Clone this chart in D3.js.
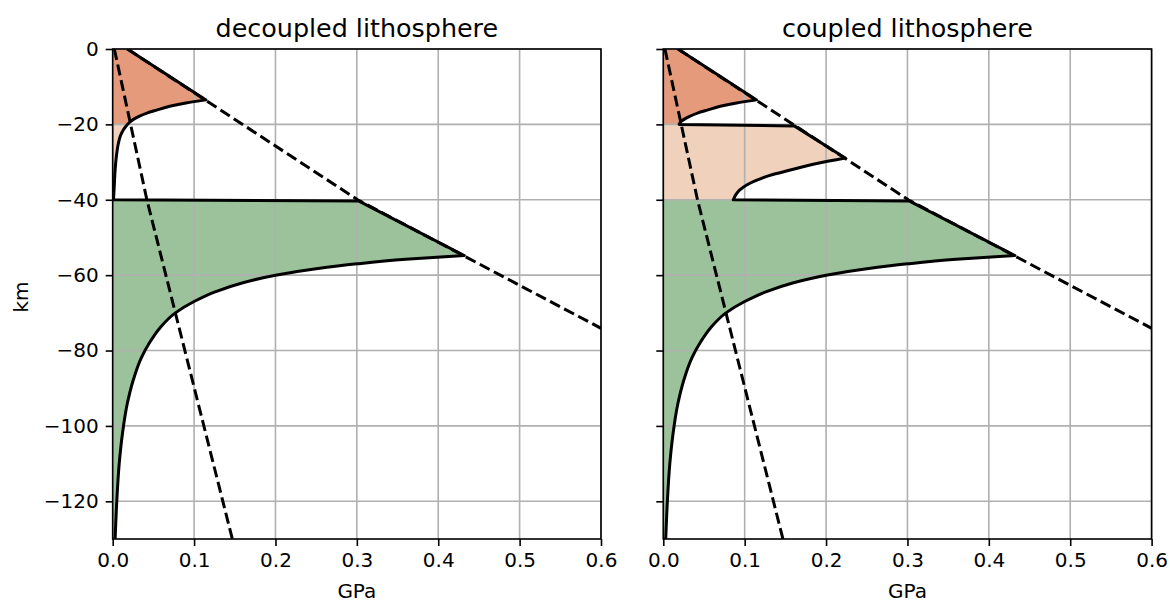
<!DOCTYPE html>
<html><head><meta charset="utf-8">
<script src="https://cdn.jsdelivr.net/npm/d3@7"></script>
<style>body{margin:0;background:#fff} svg{display:block} text{font-family:"DejaVu Sans",sans-serif;fill:#000}</style>
</head><body><svg id="c" width="1170" height="603"></svg>
<script>
// ---- data ----
const xTicks = [0, 0.1, 0.2, 0.3, 0.4, 0.5, 0.6];
const yTicks = [0, -20, -40, -60, -80, -100, -120];
const titles = ["decoupled lithosphere", "coupled lithosphere"];
const layerTops = [0, -20, -40];
const layerBottoms = [-20, -40, -130];
const layerColors = ["#E59B7B", "#F0D2BC", "#9BC29B"];
// dashed reference lines (GPa, km)
const frictionComp = [[0.018, 0], [0.301, -40], [0.6, -74.1]];
const frictionTens = [[0.002, 0], [0.042, -40], [0.147, -130]];
// envelope pieces
const ucBrittle = [[0.018, 0], [0.1146, -13.5]];
const ucCreepDecoupled = [[0.1146, -13.5], [0.09, -14.3], [0.07, -15.2], [0.054, -16.2], [0.042, -17.0], [0.033, -17.8], [0.026, -18.6], [0.021, -19.4], [0.017, -20.3], [0.013, -21.5], [0.0095, -23], [0.007, -25], [0.0045, -28.5], [0.003, -32], [0.002, -36], [0.001, -40]];
const ucCreepCoupled = [[0.1146, -13.5], [0.09, -14.3], [0.07, -15.2], [0.054, -16.2], [0.042, -17.0], [0.033, -17.8], [0.026, -18.6], [0.021, -19.4], [0.0195, -20]];
const lcBrittle = [[0.0195, -20], [0.161, -20.4], [0.2235, -28.9]];
const lcCreep = [[0.2235, -28.9], [0.19, -30.3], [0.156, -32.1], [0.13, -33.6], [0.115, -34.8], [0.103, -36.0], [0.094, -37.4], [0.089, -38.7], [0.086, -40]];
const mohoDecoupled = [[0.001, -40], [0.302, -40.3], [0.432, -54.8]];
const mohoCoupled = [[0.086, -40], [0.302, -40.3], [0.432, -54.8]];
const mantleCreep = [[0.432, -54.8], [0.36, -55.8], [0.3, -57], [0.25, -58.3], [0.2, -60], [0.16, -62], [0.125, -64.5], [0.1, -67], [0.077, -70], [0.058, -74], [0.045, -78], [0.035, -82], [0.025, -88], [0.018, -94], [0.012, -102], [0.008, -110], [0.005, -120], [0.003, -130]];

const panels = [
  {left: 112.7, segs: [[ucBrittle, false], [ucCreepDecoupled, true], [mohoDecoupled, false], [mantleCreep, true]]},
  {left: 663.3, segs: [[ucBrittle, false], [ucCreepCoupled, true], [lcBrittle, false], [lcCreep, true], [mohoCoupled, false], [mantleCreep, true]]}
];

// ---- drawing ----
const PW = 488.3, PT = 49, PB = 539;
const svg = d3.select("#c");
const defs = svg.append("defs");

panels.forEach((p, i) => {
  const x = d3.scaleLinear().domain([0, 0.6]).range([p.left, p.left + PW]);
  const y = d3.scaleLinear().domain([0, -130]).range([PT, PB]);
  const g = svg.append("g");
  const clipId = "clip" + i;
  defs.append("clipPath").attr("id", clipId).append("rect")
    .attr("x", x(0)).attr("y", y(0)).attr("width", PW).attr("height", PB - PT);

  let d = "";
  p.segs.forEach(([pts, curved], k) => {
    const s = d3.line().x(v => x(v[0])).y(v => y(v[1]))
      .curve(curved ? d3.curveMonotoneY : d3.curveLinear)(pts);
    d += (k === 0 ? s : "L" + s.slice(1));
  });
  const firstPt = p.segs[0][0][0];
  const fillD = "M" + x(0) + "," + y(firstPt[1]) + "L" + d.slice(1) + "L" + x(0) + "," + y(-130) + "Z";

  layerTops.forEach((t, li) => {
    const cid = "lay" + i + "_" + li;
    defs.append("clipPath").attr("id", cid).append("rect")
      .attr("x", x(0)).attr("y", y(t)).attr("width", PW).attr("height", y(layerBottoms[li]) - y(t));
    g.append("path").attr("d", fillD).attr("fill", layerColors[li]).attr("clip-path", `url(#${cid})`);
  });

  g.append("g").selectAll("line").data(xTicks).join("line")
    .attr("x1", v => x(v)).attr("x2", v => x(v)).attr("y1", PT).attr("y2", PB)
    .attr("stroke", "#b0b0b0").attr("stroke-width", 1.6);
  g.append("g").selectAll("line").data(yTicks).join("line")
    .attr("y1", v => y(v)).attr("y2", v => y(v)).attr("x1", x(0)).attr("x2", x(0.6))
    .attr("stroke", "#b0b0b0").attr("stroke-width", 1.6);

  const lg = g.append("g").attr("clip-path", `url(#${clipId})`);
  const ln = d3.line().x(v => x(v[0])).y(v => y(v[1]));
  [frictionComp, frictionTens].forEach(pts => {
    lg.append("path").attr("d", ln(pts)).attr("fill", "none").attr("stroke", "#000")
      .attr("stroke-width", 3).attr("stroke-dasharray", "11.1,4.8");
  });
  lg.append("path").attr("d", d).attr("fill", "none").attr("stroke", "#000")
    .attr("stroke-width", 3).attr("stroke-linejoin", "round");

  const xa = g.append("g").attr("transform", `translate(0,${PB})`)
    .call(d3.axisBottom(x).tickValues(xTicks).tickFormat(d3.format(".1f")).tickSize(7).tickPadding(7));
  const ya = g.append("g").attr("transform", `translate(${x(0)},0)`)
    .call(d3.axisLeft(y).tickValues(yTicks).tickFormat(v => i === 0 ? (v < 0 ? "\u2212" + Math.abs(v) : String(v)) : "").tickSize(7).tickPadding(7));
  [xa, ya].forEach(a => {
    a.select(".domain").remove();
    a.selectAll(".tick line").attr("stroke", "#000").attr("stroke-width", 1.6);
    a.selectAll("text").attr("font-size", 20).attr("font-family", "DejaVu Sans");
  });
  g.append("rect").attr("x", x(0)).attr("y", PT).attr("width", PW).attr("height", PB - PT)
    .attr("fill", "none").attr("stroke", "#000").attr("stroke-width", 1.6);

  g.append("text").attr("x", x(0.3)).attr("y", 37).attr("text-anchor", "middle")
    .attr("font-size", 25.4).text(titles[i]);
  g.append("text").attr("x", x(0.3)).attr("y", 598).attr("text-anchor", "middle")
    .attr("font-size", 20).text("GPa");
});
svg.append("text").attr("transform", "translate(28,297) rotate(-90)").attr("text-anchor", "middle")
  .attr("font-size", 20).text("km");
</script></body></html>
